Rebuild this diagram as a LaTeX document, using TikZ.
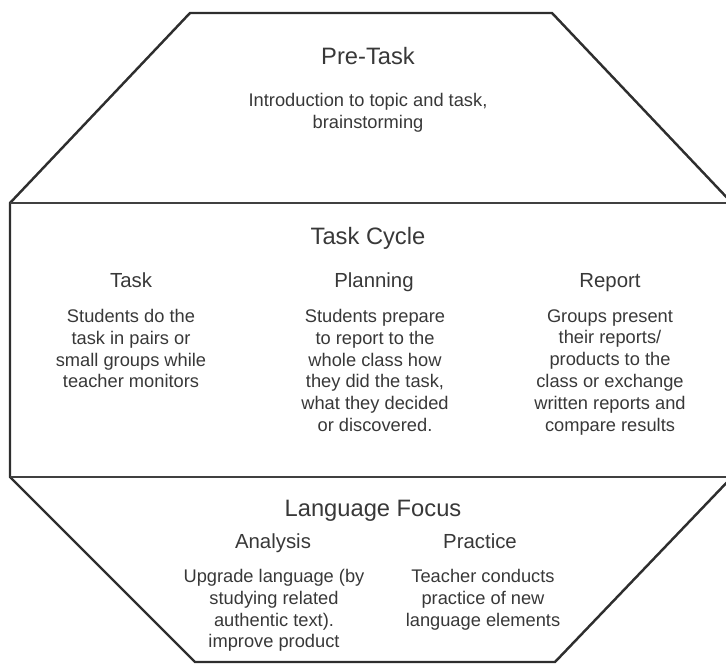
\documentclass[tikz,border=0pt]{standalone}
\usepackage{fontspec}
\setmainfont{Liberation Sans}
\usetikzlibrary{positioning}

\begin{document}
\begin{tikzpicture}[
  outline/.style={draw=black!82, line width=1.4pt, line join=round},
  divider/.style={draw=black!75, line width=1.2pt},
  title/.style={font=\fontsize{13.5}{16}\selectfont, text=black!78,
                text height=0.75em, text depth=0.22em},
  head/.style={font=\fontsize{11.6}{14}\selectfont, text=black!78,
               text height=0.75em, text depth=0.22em},
  body/.style={font=\fontsize{10.4}{12.4}\selectfont, text=black!78,
               align=center, anchor=north, inner sep=0pt}
]
\useasboundingbox (0,0) rectangle (14.52,13.3);

%% ---- OUTLINE: one octagon cut in three bands ----
\coordinate (tl)  at (3.8, 13.04);
\coordinate (tr)  at (11.04, 13.04);
\coordinate (mtr) at (14.64, 9.24);
\coordinate (mbr) at (14.64, 3.76);
\coordinate (br)  at (11.1, 0.06);
\coordinate (bl)  at (3.9, 0.06);
\coordinate (mbl) at (0.2, 3.76);
\coordinate (mtl) at (0.2, 9.24);

\draw[outline] (tl) -- (tr) -- (mtr) -- (mbr) -- (br) -- (bl) -- (mbl) -- (mtl) -- cycle;
\draw[divider] (mtl) -- (mtr);
\draw[divider] (mbl) -- (mbr);

%% ---- TOP BAND: pre-task ----
\node[title] (pretask) at (7.36, 12.1) {Pre-Task};
\node[body]  (pretxt)  at (7.36, 11.44)
     {Introduction to topic and task,\\ brainstorming};

%% ---- MIDDLE BAND: task cycle ----
\node[title] (cycle) at (7.36, 8.5) {Task Cycle};

\node[head] (task)     at (2.62, 7.64) {Task};
\node[head] (planning) at (7.48, 7.64) {Planning};
\node[head] (report)   at (12.2, 7.64) {Report};

\node[body] (tasktxt) at (2.62, 7.12)
     {Students do the\\ task in pairs or\\ small groups while\\ teacher monitors};
\node[body] (plantxt) at (7.5, 7.12)
     {Students prepare\\ to report to the\\ whole class how\\ they did the task,\\
      what they decided\\ or discovered.};
\node[body] (reptxt)  at (12.2, 7.12)
     {Groups present\\ their reports/\\ products to the\\ class or exchange\\
      written reports and\\ compare results};

%% ---- BOTTOM BAND: language focus ----
\node[title] (focus)    at (7.46, 3.06) {Language Focus};
\node[head]  (analysis) at (5.46, 2.42) {Analysis};
\node[head]  (practice) at (9.6, 2.42)  {Practice};

\node[body] (anatxt) at (5.48, 1.92)
     {Upgrade language (by\\ studying related\\ authentic text).\\ improve product};
\node[body] (practxt) at (9.66, 1.92)
     {Teacher conducts\\ practice of new\\ language elements};

\end{tikzpicture}
\end{document}
